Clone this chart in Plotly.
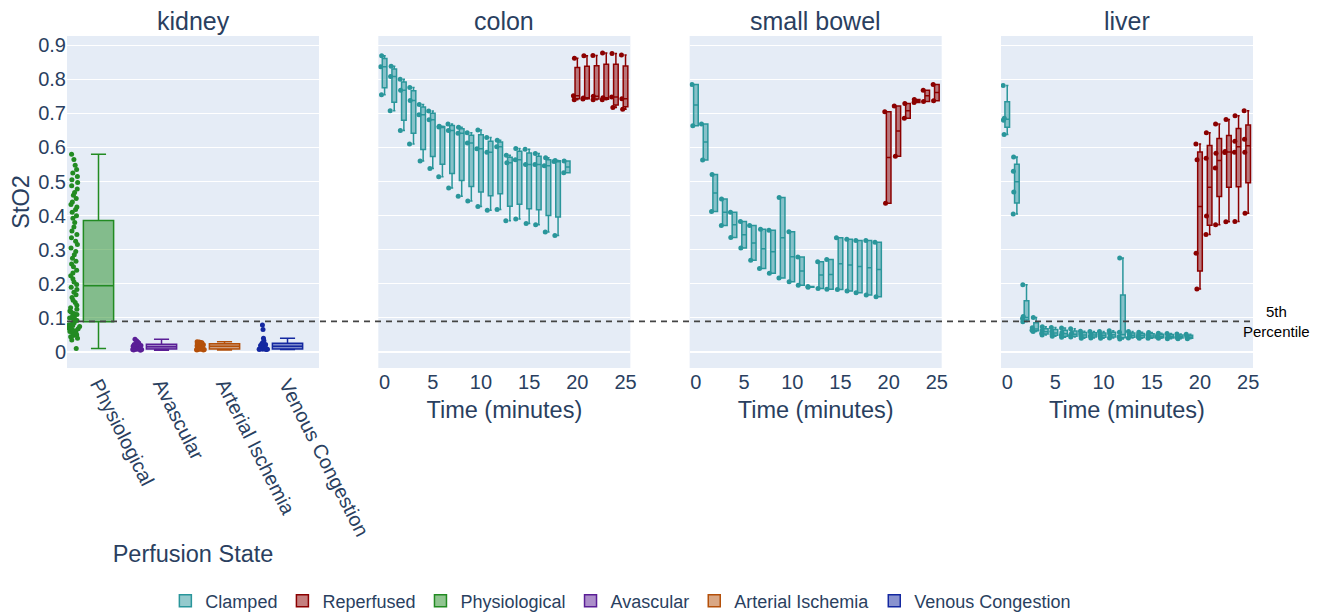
import plotly.graph_objects as go
from plotly.subplots import make_subplots

FONT = "Liberation Sans, Arial, sans-serif"

organs = ["kidney", "colon", "small bowel", "liver"]
kidney_states = ["Physiological", "Avascular", "Arterial Ischemia", "Venous Congestion"]

# ---- kidney samples (StO2) ----
kidney_physiological = [
    0.010, 0.035, 0.040, 0.045, 0.048, 0.050, 0.052, 0.055, 0.057, 0.060,
    0.062, 0.065, 0.068, 0.070, 0.073, 0.075, 0.078, 0.080, 0.083, 0.086,
    0.092, 0.095, 0.098, 0.100, 0.103, 0.106, 0.110, 0.113, 0.117, 0.120,
    0.125, 0.130, 0.137, 0.145, 0.152, 0.160, 0.168, 0.175, 0.183, 0.190,
    0.198, 0.205, 0.215, 0.224, 0.232, 0.240, 0.250, 0.258, 0.266, 0.275,
    0.285, 0.295, 0.305, 0.315, 0.325, 0.335, 0.345, 0.355, 0.367, 0.380,
    0.392, 0.400, 0.410, 0.418, 0.425, 0.433, 0.440, 0.450, 0.460, 0.468,
    0.478, 0.488, 0.497, 0.505, 0.515, 0.525, 0.535, 0.548, 0.565, 0.580,
]
kidney_avascular = [
    0.005, 0.006, 0.007, 0.007, 0.008, 0.008, 0.009, 0.010, 0.011, 0.012,
    0.013, 0.015, 0.016, 0.017, 0.018, 0.019, 0.021, 0.022, 0.023, 0.024,
    0.026, 0.029, 0.033, 0.037,
]
kidney_arterial = [
    0.006, 0.006, 0.007, 0.007, 0.008, 0.008, 0.009, 0.010, 0.012, 0.013,
    0.015, 0.016, 0.017, 0.018, 0.020, 0.021, 0.023, 0.024, 0.025, 0.026,
    0.027, 0.028, 0.029, 0.030,
]
kidney_venous = [
    0.007, 0.008, 0.008, 0.008, 0.009, 0.009, 0.009, 0.010, 0.011, 0.012,
    0.014, 0.016, 0.018, 0.019, 0.020, 0.022, 0.024, 0.025, 0.026, 0.028,
    0.033, 0.040, 0.066, 0.079,
]
kidney_values = [kidney_physiological, kidney_avascular, kidney_arterial, kidney_venous]

# ---- colon ----
colon_clamped_t = list(range(0, 20))
colon_clamped = [
    [0.755, 0.837, 0.869], [0.708, 0.808, 0.838], [0.650, 0.768, 0.800],
    [0.610, 0.738, 0.776], [0.560, 0.696, 0.726], [0.538, 0.681, 0.707],
    [0.514, 0.660, 0.662], [0.481, 0.650, 0.669], [0.457, 0.642, 0.659],
    [0.443, 0.613, 0.643], [0.427, 0.596, 0.651], [0.416, 0.586, 0.629],
    [0.418, 0.602, 0.621], [0.385, 0.555, 0.577], [0.390, 0.564, 0.597],
    [0.377, 0.550, 0.595], [0.373, 0.550, 0.582], [0.352, 0.546, 0.570],
    [0.342, 0.559, 0.562], [0.526, 0.560],
]
colon_reperfused_t = list(range(20, 26))
colon_reperfused = [
    [0.740, 0.752, 0.862], [0.742, 0.745, 0.869], [0.740, 0.750, 0.870],
    [0.740, 0.746, 0.877], [0.717, 0.748, 0.876], [0.712, 0.743, 0.871],
]

# ---- small bowel ----
sb_clamped_t = list(range(0, 20))
sb_clamped = [
    [0.664, 0.785], [0.563, 0.669], [0.412, 0.521], [0.371, 0.449],
    [0.336, 0.410], [0.305, 0.383], [0.269, 0.371], [0.245, 0.360],
    [0.231, 0.357], [0.217, 0.453], [0.206, 0.353], [0.196, 0.279],
    [0.190, 0.192], [0.186, 0.265], [0.184, 0.271], [0.183, 0.335],
    [0.179, 0.331], [0.174, 0.327], [0.167, 0.327], [0.162, 0.322],
]
sb_reperfused_t = list(range(20, 26))
sb_reperfused = [
    [0.436, 0.705], [0.574, 0.722], [0.686, 0.729],
    [0.732, 0.741], [0.735, 0.768], [0.737, 0.785],
]

# ---- liver ----
liver_clamped_t = list(range(0, 20))
liver_clamped = [
    [0.638, 0.680, 0.686, 0.782], [0.405, 0.469, 0.530, 0.572],
    [0.089, 0.098, 0.104, 0.197], [0.060, 0.064, 0.071, 0.101],
    [0.050, 0.055, 0.063, 0.074], [0.046, 0.052, 0.060, 0.072],
    [0.043, 0.050, 0.057, 0.070], [0.044, 0.049, 0.055, 0.068],
    [0.040, 0.046, 0.053, 0.061], [0.041, 0.047, 0.053, 0.060],
    [0.040, 0.046, 0.052, 0.060], [0.041, 0.047, 0.054, 0.062],
    [0.038, 0.045, 0.058, 0.276], [0.041, 0.046, 0.052, 0.060],
    [0.040, 0.045, 0.051, 0.058], [0.040, 0.044, 0.050, 0.057],
    [0.040, 0.044, 0.049, 0.055], [0.039, 0.043, 0.048, 0.054],
    [0.039, 0.043, 0.047, 0.053], [0.039, 0.042, 0.046, 0.052],
]
liver_reperfused_t = list(range(20, 26))
liver_reperfused = [
    [0.185, 0.290, 0.564, 0.610], [0.345, 0.399, 0.568, 0.643],
    [0.373, 0.540, 0.583, 0.669], [0.382, 0.585, 0.588, 0.682],
    [0.383, 0.586, 0.618, 0.693], [0.407, 0.586, 0.624, 0.708],
]

threshold_5th = 0.09

COLORS = {
    "Clamped": "#2a969b",
    "Reperfused": "#8b0000",
    "Physiological": "#228b22",
    "Avascular": "#5a1e96",
    "Arterial Ischemia": "#b4500a",
    "Venous Congestion": "#1428a0",
}
RANK = {k: i for i, k in enumerate(COLORS)}


def flatten(times, groups):
    xs, ys = [], []
    for t, g in zip(times, groups):
        xs += [t] * len(g)
        ys += list(g)
    return xs, ys


fig = make_subplots(rows=1, cols=4, shared_yaxes=True, horizontal_spacing=0.05,
                    subplot_titles=organs)

# kidney
for state, vals in zip(kidney_states, kidney_values):
    fig.add_trace(go.Box(
        x=[state] * len(vals), y=vals, name=state, legendgroup=state,
        legendrank=RANK[state] + 1,
        marker=dict(color=COLORS[state], size=5), line=dict(width=1.5),
        boxpoints="all", jitter=0.4, pointpos=-1.6, width=0.48,
    ), row=1, col=1)

organ_series = [
    (2, colon_clamped_t, colon_clamped, colon_reperfused_t, colon_reperfused),
    (3, sb_clamped_t, sb_clamped, sb_reperfused_t, sb_reperfused),
    (4, liver_clamped_t, liver_clamped, liver_reperfused_t, liver_reperfused),
]
for col, ct, cv, rt, rv in organ_series:
    for state, t, v in (("Clamped", ct, cv), ("Reperfused", rt, rv)):
        xs, ys = flatten(t, v)
        fig.add_trace(go.Box(
            x=xs, y=ys, name=state, legendgroup=state, showlegend=(col == 2),
            legendrank=RANK[state] + 1,
            marker=dict(color=COLORS[state], size=5), line=dict(width=1.5),
            boxpoints="all", jitter=0.3, pointpos=-1.5, width=0.48,
        ), row=1, col=col)

fig.update_yaxes(range=[-0.047, 0.927], dtick=0.1, tick0=0, automargin=False,
                 tickfont=dict(size=20), showgrid=True)
fig.update_yaxes(title=dict(text="StO2", font=dict(size=23.5)), row=1, col=1)

fig.update_xaxes(showgrid=False, tickfont=dict(size=20), automargin=False)
fig.update_xaxes(type="category", categoryorder="array", categoryarray=kidney_states,
                 range=[-0.5, 3.5], tickangle=63, tickfont=dict(size=20),
                 title=dict(text="Perfusion State", font=dict(size=23.5), standoff=6),
                 row=1, col=1)
for col in (2, 3, 4):
    fig.update_xaxes(range=[-0.65, 25.5], dtick=5, tick0=0,
                     title=dict(text="Time (minutes)", font=dict(size=23.5), standoff=9),
                     row=1, col=col)

fig.add_shape(type="line", xref="paper", yref="y", x0=0, x1=1,
              y0=threshold_5th, y1=threshold_5th,
              line=dict(color="#444444", width=1.8, dash="6px,5px"))
fig.add_annotation(text="5th<br>Percentile", xref="paper", yref="y", x=1.0194,
                   y=threshold_5th, showarrow=False, xanchor="center", yanchor="middle",
                   font=dict(size=15, color="black"))

for ann in fig.layout.annotations[:4]:
    ann.font = dict(size=25)
    ann.yshift = -1

fig.update_layout(
    width=1313, height=605,
    font=dict(family=FONT),
    boxmode="overlay",
    margin=dict(l=59, r=68, t=28, b=245, autoexpand=False),
    legend=dict(orientation="h", x=0.467, xanchor="center",
                yref="container", y=0.0198, yanchor="middle",
                font=dict(size=18)),
)

fig.write_html("out.html")
